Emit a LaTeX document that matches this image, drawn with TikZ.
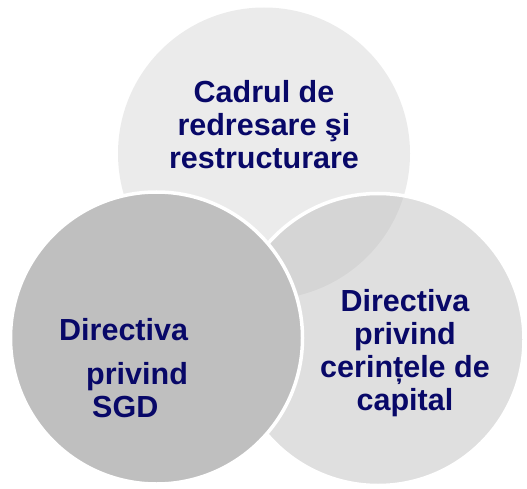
\documentclass[tikz,border=0pt]{standalone}
\usepackage{fontspec}
\setmainfont{Liberation Sans}
\usepackage{tikz}
\usetikzlibrary{positioning}

\definecolor{discgray}{RGB}{191,191,191}
\definecolor{navytext}{RGB}{8,8,104}

\begin{document}
\begin{tikzpicture}[x=1pt,y=-1pt,
            disc/.style={circle, fill=discgray, minimum size=292pt, inner sep=0pt},
            label/.style={text=navytext, font=\fontsize{30.5}{33}\selectfont\bfseries,
            inner sep=0pt}]
        \useasboundingbox (0,0) rectangle (527,489);
        \node[disc, fill opacity=0.31] (cadru) at (264,153.5) {};
        \node[disc, fill opacity=0.5, draw=white, line width=3.5pt] (crd) at (378,339.5) {};
        \node[disc, draw=white, line width=3.5pt] (sgd) at (156.5,338) {};

        \node[label, align=center] (cadrutext) at (264,124.5)
            {Cadrul de\\redresare şi\\restructurare};
        \node[label, align=center] (crdtext) at (405,353)
            {Directiva\\privind\\cerințele de\\capital};
        \node[label, align=left, anchor=west] (sgdtext) at (59,368)
            {Directiva\\[11pt]\hspace*{27pt}privind\\\hspace*{33pt}SGD};
    \end{tikzpicture}
\end{document}
